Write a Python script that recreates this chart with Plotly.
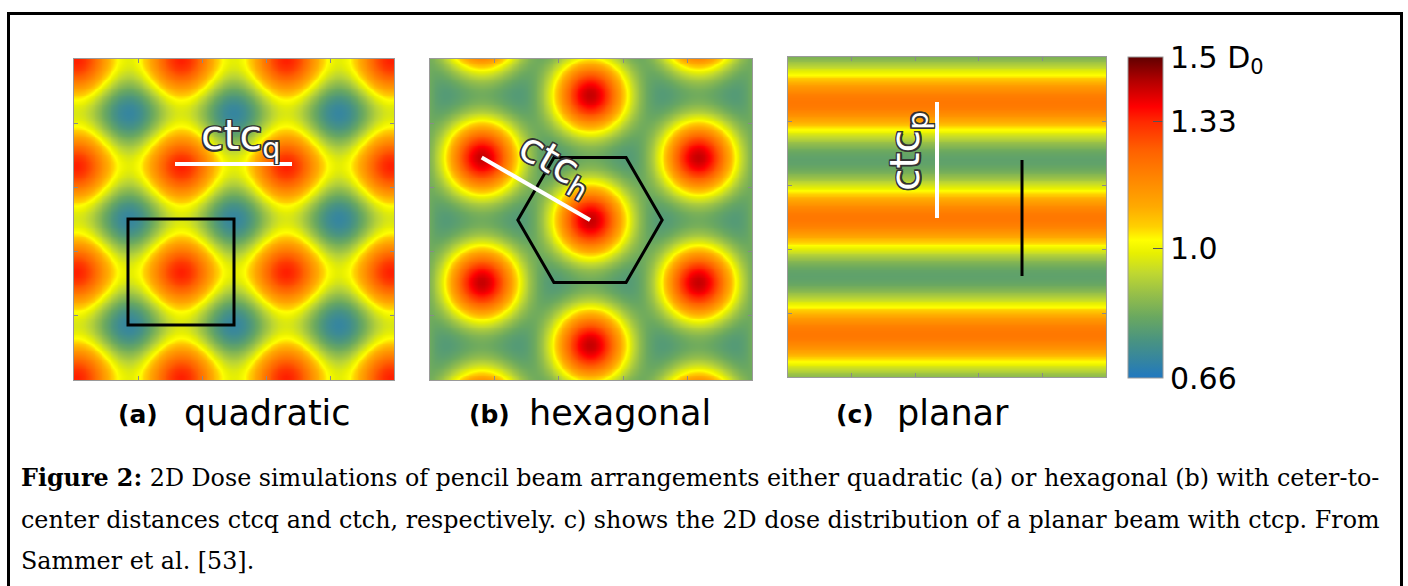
import numpy as np
import plotly.graph_objects as go

# ---------------- data ----------------
# colour bar (dose in units of D0)
cbar_values = [0.66, 0.707, 0.76, 0.82, 0.882, 0.935, 0.987, 1.021, 1.056, 1.108,
               1.178, 1.257, 1.33, 1.37, 1.44, 1.50]
cbar_colors = ['#2078c0', '#3585a0', '#4a9480', '#6aa860', '#98c048', '#c0d830',
               '#e8f000', '#ffff00', '#ffd000', '#ffaa00', '#ff8800', '#ff6000',
               '#ff2a00', '#ff0000', '#b00000', '#600000']
cbar_tickvals = [0.66, 1.0, 1.33, 1.5]
cbar_ticktext = ['0.66', '1.0', '1.33', '1.5 D<sub>0</sub>']
dose_min, dose_max = 0.66, 1.5

# (a) quadratic arrangement: beam centres (µm in the panel frame)
quad_size = [320, 321]
quad_pitch = 106
quad_beam_x = [-103, 2, 107, 212, 317, 422]
quad_beam_y = [-105, 1, 107, 213, 319, 425]
quad_sigma = 38
quad_peak, quad_valley = 1.34, 0.71

# (b) hexagonal arrangement: beam columns and their vertical offsets
hex_size = [322, 321]
hex_ctc = 125
hex_col_x = [-56.6, 51.7, 160.0, 268.3, 376.6]
hex_col_y0 = [36.0, 98.5, 36.0, 98.5, 36.0]
hex_rows = [-2, -1, 0, 1, 2, 3]
hex_sigma = 30
hex_peak, hex_valley = 1.42, 0.78

# (c) planar arrangement: planar beam centres (y)
planar_size = [318, 320]
planar_beam_y = [-71, 45, 161, 277, 393]
planar_sigma = 34
planar_peak, planar_valley = 1.21, 0.80

panel_labels = ['(a)', '(b)', '(c)']
panel_names = ['quadratic', 'hexagonal', 'planar']

caption_lines = [
    '<b>Figure 2:</b> 2D Dose simulations of pencil beam arrangements either quadratic (a) or hexagonal (b) with ceter-to-',
    'center distances ctcq and ctch, respectively. c) shows the 2D dose distribution of a planar beam with ctcp. From',
    'Sammer et al. [53].',
]

# ---------------- dose model ----------------
N = 181


def normalise(F, peak, valley):
    return valley + (peak - valley) * (F - F.min()) / (F.max() - F.min())


def grid(size):
    return np.linspace(0, size[0], N), np.linspace(0, size[1], N)


# (a)
qa_x, qa_y = grid(quad_size)
QX, QY = np.meshgrid(qa_x, qa_y)
F = np.zeros_like(QX)
for bx in quad_beam_x:
    for by in quad_beam_y:
        F += np.exp(-((QX - bx) ** 2 + (QY - by) ** 2) / (2 * quad_sigma ** 2))
z_quad = np.round(normalise(F, quad_peak, quad_valley), 4)

# (b)
hb_x, hb_y = grid(hex_size)
HX, HY = np.meshgrid(hb_x, hb_y)
F = np.zeros_like(HX)
hex_beams = []
for cx, cy0 in zip(hex_col_x, hex_col_y0):
    for j in hex_rows:
        hex_beams.append((cx, cy0 + hex_ctc * j))
for bx, by in hex_beams:
    F += np.exp(-((HX - bx) ** 2 + (HY - by) ** 2) / (2 * hex_sigma ** 2))
z_hex = np.round(normalise(F, hex_peak, hex_valley), 4)

# (c)
pc_x, pc_y = grid(planar_size)
PX, PY = np.meshgrid(pc_x, pc_y)
F = np.zeros_like(PX)
for by in planar_beam_y:
    F += np.exp(-((PY - by) ** 2) / (2 * planar_sigma ** 2))
z_planar = np.round(normalise(F, planar_peak, planar_valley), 4)

# ---------------- figure ----------------
W, H = 1408, 586


def fx(px):
    return px / W


def fy(py):
    return 1 - py / H


colorscale = [[(v - dose_min) / (dose_max - dose_min), c] for v, c in zip(cbar_values, cbar_colors)]

panels = [  # pixel boxes: left, top, right, bottom
    (74, 59, 394, 380),
    (430, 59, 752, 380),
    (788, 57, 1106, 377),
]

fig = go.Figure()

datasets = [(qa_x, qa_y, z_quad, quad_size), (hb_x, hb_y, z_hex, hex_size), (pc_x, pc_y, z_planar, planar_size)]
for i, (xx, yy, zz, size) in enumerate(datasets):
    sfx = '' if i == 0 else str(i + 1)
    fig.add_trace(go.Heatmap(
        x=xx, y=yy, z=zz, xaxis='x' + sfx, yaxis='y' + sfx,
        colorscale=colorscale, zmin=dose_min, zmax=dose_max, zsmooth='best',
        showscale=(i == 2), hoverinfo='skip',
        colorbar=dict(
            x=fx(1128), xanchor='left', xpad=0, ypad=0,
            y=fy((57 + 378) / 2), yanchor='middle', len=321 / H, lenmode='fraction',
            thickness=35, thicknessmode='pixels',
            outlinewidth=1, outlinecolor='#9a9a9a',
            tickvals=cbar_tickvals, ticktext=cbar_ticktext,
            ticks='inside', ticklen=10, tickwidth=1, tickcolor='#555555',
            tickfont=dict(family='DejaVu Sans', size=30, color='black'),
        ),
    ))
    l, t, r, b = panels[i]
    common = dict(showline=True, linecolor='#9a9a9a', linewidth=1, mirror='ticks',
                  ticks='inside', ticklen=4, tickcolor='#8a8a8a', showticklabels=False,
                  showgrid=False, zeroline=False)
    fig.layout['xaxis' + sfx] = dict(domain=[fx(l), fx(r)], range=[0, size[0]],
                                     tickvals=[size[0] * k / 5 for k in range(1, 5)],
                                     anchor='y' + sfx, **common)
    fig.layout['yaxis' + sfx] = dict(domain=[fy(b), fy(t)], range=[size[1], 0],
                                     tickvals=[size[1] * k / 5 for k in range(1, 5)],
                                     anchor='x' + sfx, **common)

shapes = []
annotations = []
outline = '-1.5px -1.5px 0 #333, 1.5px -1.5px 0 #333, -1.5px 1.5px 0 #333, 1.5px 1.5px 0 #333, 0 1.5px 0 #333, 0 -1.5px 0 #333, 1.5px 0 0 #333, -1.5px 0 0 #333'
ctc_font = dict(family='DejaVu Sans', size=41, color='white', shadow=outline)

# (a) unit cell + ctc line
cx, cy = quad_beam_x[2], quad_beam_y[3]
shapes.append(dict(type='rect', xref='x', yref='y', x0=cx - quad_pitch / 2, x1=cx + quad_pitch / 2,
                   y0=cy - quad_pitch / 2, y1=cy + quad_pitch / 2, line=dict(color='black', width=3)))
shapes.append(dict(type='line', xref='x', yref='y', x0=quad_beam_x[2] - 6, x1=quad_beam_x[3] + 6,
                   y0=quad_beam_y[2] - 2, y1=quad_beam_y[2] - 2, line=dict(color='white', width=4)))
annotations.append(dict(xref='x', yref='y', x=166, y=79, text='ctc<sub>q</sub>', showarrow=False,
                        font=ctc_font))

# (b) hexagonal cell + ctc line
hcx, hcy = hex_col_x[2], hex_col_y0[2] + hex_ctc
R = hex_ctc / np.sqrt(3)
verts = [(hcx + R * np.cos(np.radians(a)), hcy + R * np.sin(np.radians(a))) for a in range(0, 360, 60)]
path = 'M ' + ' L '.join(f'{vx:.2f},{vy:.2f}' for vx, vy in verts) + ' Z'
shapes.append(dict(type='path', xref='x2', yref='y2', path=path, line=dict(color='black', width=3)))
shapes.append(dict(type='line', xref='x2', yref='y2', x0=hex_col_x[1], y0=hex_col_y0[1],
                   x1=hcx, y1=hcy, line=dict(color='white', width=4)))
annotations.append(dict(xref='x2', yref='y2', x=125, y=106, text='ctc<sub>h</sub>', showarrow=False,
                        textangle=30, font=ctc_font))

# (c) ctc line between beam centres, black line between valleys
shapes.append(dict(type='line', xref='x3', yref='y3', x0=149, x1=149, y0=planar_beam_y[1], y1=planar_beam_y[2],
                   line=dict(color='white', width=4)))
v0 = (planar_beam_y[1] + planar_beam_y[2]) / 2
v1 = (planar_beam_y[2] + planar_beam_y[3]) / 2
shapes.append(dict(type='line', xref='x3', yref='y3', x0=234, x1=234, y0=v0, y1=v1,
                   line=dict(color='black', width=3)))
annotations.append(dict(xref='x3', yref='y3', x=120, y=95, text='ctc<sub>p</sub>', showarrow=False,
                        textangle=-90, font=ctc_font))

# panel labels
label_pos = [(138, 182), (489, 527), (855, 895)]
for (lx, nx), lab, name in zip(label_pos, panel_labels, panel_names):
    annotations.append(dict(xref='paper', yref='paper', x=fx(lx), y=fy(414), text=f'<b>{lab}</b>',
                            showarrow=False, xanchor='center', yanchor='middle',
                            font=dict(family='DejaVu Sans', size=25, color='black')))
    annotations.append(dict(xref='paper', yref='paper', x=fx(nx), y=fy(413), text=name,
                            showarrow=False, xanchor='left', yanchor='middle',
                            font=dict(family='DejaVu Sans', size=35, color='black')))

# caption
for k, (line, yc) in enumerate(zip(caption_lines, [478, 520, 561])):
    annotations.append(dict(xref='paper', yref='paper', x=fx(19), y=fy(yc), text=line,
                            showarrow=False, xanchor='left', yanchor='middle', align='left',
                            font=dict(family='DejaVu Serif', size=23.8, color='black')))

# outer frame
shapes.append(dict(type='rect', xref='paper', yref='paper', x0=fx(8.5), x1=fx(1401.5),
                   y0=-0.1, y1=fy(13.5), line=dict(color='black', width=3), layer='above'))

fig.update_layout(width=W, height=H, margin=dict(l=0, r=0, t=0, b=0),
                  paper_bgcolor='white', plot_bgcolor='white',
                  shapes=shapes, annotations=annotations, showlegend=False)

fig.write_html('out.html', config={'displayModeBar': False},
               post_script="document.body.style.margin='0';")
